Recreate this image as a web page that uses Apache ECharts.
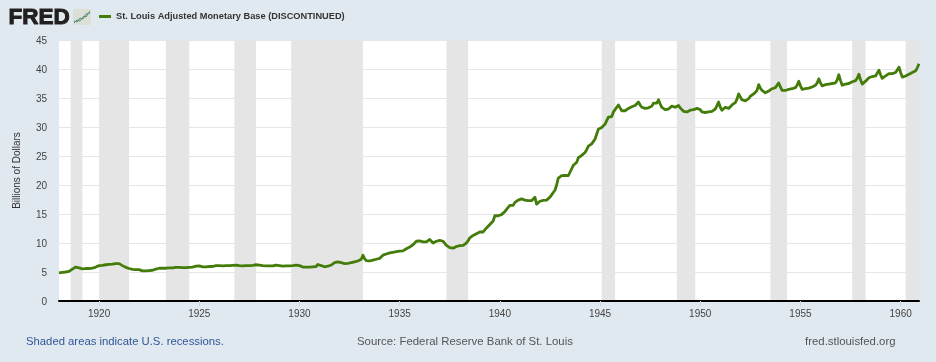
<!DOCTYPE html>
<html>
<head>
<meta charset="utf-8">
<title>St. Louis Adjusted Monetary Base</title>
<script src="https://cdn.jsdelivr.net/npm/echarts@6/dist/echarts.min.js"></script>
<style>
  html, body { margin: 0; padding: 0; background: #e1e9f0; }
  #chart { width: 936px; height: 362px; }
</style>
</head>
<body>
<div id="chart"></div>
<script>
var seriesName = "St. Louis Adjusted Monetary Base (DISCONTINUED)";
var startYear = 1918;

// monthly values, one row per year
var monthlyValues = [
  [4.85,4.9,4.95,5.0,5.0,5.05,5.1,5.2,5.5,5.7,5.85,5.9],
  [5.7,5.6,5.55,5.6,5.6,5.6,5.6,5.6,5.65,5.7,5.85,6.0],
  [6.1,6.15,6.15,6.2,6.25,6.25,6.3,6.3,6.35,6.4,6.45,6.5],
  [6.45,6.3,6.1,5.9,5.8,5.7,5.6,5.5,5.45,5.45,5.4,5.4],
  [5.4,5.25,5.2,5.2,5.2,5.25,5.25,5.25,5.3,5.4,5.5,5.6],
  [5.65,5.65,5.65,5.65,5.65,5.7,5.7,5.7,5.7,5.75,5.8,5.9],
  [5.8,5.75,5.75,5.75,5.75,5.8,5.8,5.8,5.85,5.9,6.0,6.3],
  [6.05,5.9,5.9,5.9,5.9,5.9,5.95,5.95,5.95,6.0,6.1,6.3],
  [6.1,6.05,6.05,6.05,6.1,6.1,6.1,6.15,6.15,6.15,6.2,6.35],
  [6.1,6.05,6.05,6.1,6.1,6.1,6.1,6.15,6.15,6.2,6.25,6.5],
  [6.2,6.1,6.1,6.1,6.05,6.05,6.05,6.05,6.05,6.1,6.2,6.4],
  [6.1,6.0,6.0,6.0,6.05,6.05,6.05,6.1,6.1,6.15,6.2,6.4],
  [6.1,5.85,5.85,5.85,5.85,5.85,5.85,5.9,5.9,5.9,5.95,6.3],
  [6.15,6.1,5.95,5.9,5.95,6.0,6.1,6.2,6.35,6.6,6.8,6.75],
  [6.7,6.6,6.5,6.45,6.4,6.5,6.55,6.6,6.7,6.75,6.85,6.9],
  [7.0,7.2,7.9,7.3,6.95,6.9,6.9,7.0,7.05,7.15,7.2,7.3],
  [7.35,7.4,7.9,8.0,8.1,8.2,8.3,8.3,8.4,8.4,8.5,8.6],
  [8.6,8.7,8.65,8.8,9.0,9.1,9.3,9.5,9.7,10.0,10.3,10.4],
  [10.35,10.3,10.2,10.05,10.2,10.4,10.6,10.8,10.0,10.0,10.3,10.5],
  [10.45,10.4,10.3,10.1,9.6,9.3,9.2,9.1,9.1,9.3,9.4,9.5],
  [9.55,9.55,9.6,9.7,10.0,10.4,10.9,11.1,11.3,11.4,11.6,11.8],
  [11.9,11.9,11.9,12.2,12.6,12.9,13.2,13.5,13.8,14.7,14.7,14.7],
  [14.7,14.9,15.2,15.4,15.8,16.1,16.5,16.5,16.5,17.0,17.2,17.4],
  [17.5,17.6,17.5,17.4,17.3,17.3,17.3,17.3,17.5,17.9,16.7,16.9],
  [17.2,17.3,17.35,17.4,17.4,17.5,17.9,18.3,18.7,19.1,20.0,21.2],
  [21.4,21.6,21.7,21.65,21.6,21.6,22.2,22.8,23.4,23.3,23.9,24.7],
  [25.0,25.1,25.2,25.6,26.1,26.7,26.9,27.1,27.2,27.9,28.8,29.6],
  [29.8,29.9,30.0,30.5,31.1,31.7,31.7,31.8,32.6,33.0,33.4,33.8],
  [33.3,32.8,32.8,32.8,33.0,33.2,33.4,33.5,33.6,33.7,33.9,34.3],
  [33.8,33.4,33.3,33.2,33.1,33.3,33.4,33.6,34.1,34.1,34.1,34.7],
  [34.0,33.4,33.2,33.0,32.9,33.1,33.3,33.6,33.5,33.4,33.4,33.7],
  [33.3,33.0,32.7,32.6,32.6,32.7,32.9,32.9,33.0,33.1,33.2,33.4],
  [33.0,32.6,32.5,32.5,32.5,32.6,32.6,32.7,33.0,33.1,33.2,34.3],
  [33.4,32.9,33.2,33.4,33.3,33.2,33.4,33.8,33.9,34.2,34.8,35.7],
  [35.2,34.7,34.6,34.5,34.6,34.9,35.3,35.5,35.7,35.8,36.3,37.3],
  [36.7,36.3,36.0,35.9,35.8,36.2,36.5,36.6,36.7,36.8,37.1,37.6],
  [36.9,36.3,36.3,36.3,36.3,36.5,36.6,36.6,36.7,36.8,37.2,37.9],
  [37.1,36.5,36.5,36.6,36.7,36.7,36.8,36.9,37.1,37.2,37.6,38.3],
  [37.6,37.1,37.2,37.3,37.4,37.4,37.4,37.5,37.5,37.6,38.1,39.0],
  [38.0,37.2,37.3,37.4,37.4,37.5,37.6,37.8,37.9,38.0,38.4,39.1],
  [38.1,37.4,37.6,37.9,38.2,38.5,38.7,38.7,38.7,38.8,39.1,39.8],
  [39.0,38.4,38.6,38.8,39.0,39.2,39.2,39.2,39.2,39.4,39.7,40.3],
  [39.4,38.6,38.6,38.8,38.9,39.1,39.4,39.4,39.5,39.7,40.2,40.9]
];

// recession start / end as [year, month] with month 0 = January
var recessions = [
  [[1918,7],[1919,2]],
  [[1920,0],[1921,6]],
  [[1923,4],[1924,6]],
  [[1926,9],[1927,10]],
  [[1929,7],[1933,2]],
  [[1937,4],[1938,5]],
  [[1945,1],[1945,9]],
  [[1948,10],[1949,9]],
  [[1953,6],[1954,4]],
  [[1957,7],[1958,3]],
  [[1960,3],[1960,11]]
];

var xTickYears = [1920,1925,1930,1935,1940,1945,1950,1955,1960];

function yearPos(year, month) { return year + month / 12; }

var lineData = [];
monthlyValues.forEach(function (row, i) {
  row.forEach(function (v, m) {
    lineData.push([yearPos(startYear + i, m), v]);
  });
});
var xMin = lineData[0][0];
var xMax = lineData[lineData.length - 1][0];

var chart = echarts.init(document.getElementById("chart"));
var font = '"Liberation Sans", Arial, sans-serif';

chart.setOption({
  backgroundColor: "#e1e9f0",
  animation: false,
  textStyle: { fontFamily: font },
  grid: { show: true, backgroundColor: "#fff", borderWidth: 0, left: 59, right: 17, top: 40, bottom: 61 },
  legend: {
    left: 94,
    top: 7,
    icon: "rect",
    itemWidth: 12,
    itemHeight: 3,
    itemGap: 5,
    textStyle: { fontFamily: font, fontSize: 9.25, fontWeight: "bold", color: "#333" },
    data: [seriesName]
  },
  xAxis: {
    type: "value",
    z: 10,
    min: xMin,
    max: xMax,
    axisLine: { show: true, onZero: false, lineStyle: { color: "#000", width: 2 } },
    axisTick: { show: true, customValues: xTickYears, length: 5, lineStyle: { color: "#ccd6eb", width: 1 } },
    splitLine: { show: false },
    axisLabel: {
      customValues: xTickYears,
      margin: 8,
      fontSize: 10,
      color: "#444",
      formatter: function (v) { return String(v); }
    }
  },
  yAxis: {
    type: "value",
    min: 0,
    max: 45,
    interval: 5,
    name: "Billions of Dollars",
    nameLocation: "middle",
    nameGap: 37,
    nameTextStyle: { fontFamily: font, fontSize: 10, color: "#333" },
    axisLine: { show: false },
    axisTick: { show: false },
    axisLabel: { fontSize: 10, color: "#444", margin: 12, verticalAlign: "top", lineHeight: 3 },
    splitLine: { show: true, lineStyle: { color: "#e6e6e6", width: 1 } }
  },
  series: [{
    name: seriesName,
    type: "line",
    data: lineData,
    showSymbol: false,
    smooth: false,
    lineStyle: { color: "#447c0a", width: 2.8, join: "round" },
    itemStyle: { color: "#447c0a" },
    markArea: {
      silent: true,
      itemStyle: { color: "#e5e5e5", opacity: 1 },
      data: recessions.map(function (r) {
        return [{ xAxis: yearPos(r[0][0], r[0][1]) }, { xAxis: yearPos(r[1][0], r[1][1]) }];
      })
    }
  }],
  graphic: [
    { type: "text", left: 8, top: 6, style: { text: "FRED", fontFamily: font, fontSize: 22.5, fontWeight: 900, fill: "#231f20", stroke: "#231f20", lineWidth: 1 } },
    { type: "rect", shape: { x: 73, y: 9, width: 18, height: 16, r: 2 }, style: { fill: "#dcdfd6" } },
    { type: "polyline", shape: { points: [[74,23],[77,20],[80,21],[84,16],[86,17],[90,11]] }, style: { stroke: "#5f8f2e", fill: null, lineWidth: 1 } },
    { type: "polyline", shape: { points: [[74,21],[77,22],[80,18],[83,19],[86,14],[90,13]] }, style: { stroke: "#4f86a3", fill: null, lineWidth: 1 } },
    { type: "text", left: 26, top: 336, style: { text: "Shaded areas indicate U.S. recessions.", fontFamily: font, fontSize: 11.3, fill: "#2f5597" } },
    { type: "text", left: 357, top: 336, style: { text: "Source: Federal Reserve Bank of St. Louis", fontFamily: font, fontSize: 11.4, fill: "#555" } },
    { type: "text", left: 805, top: 336, style: { text: "fred.stlouisfed.org", fontFamily: font, fontSize: 11.4, fill: "#555" } }
  ]
});
</script>
</body>
</html>
